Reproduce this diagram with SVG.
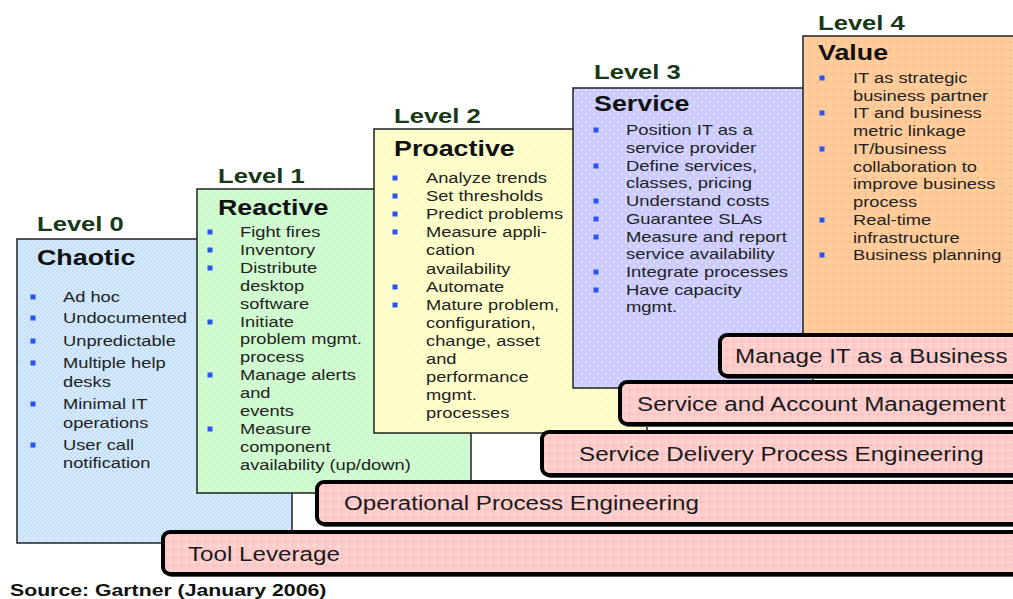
<svg xmlns="http://www.w3.org/2000/svg" width="1013" height="599" viewBox="0 0 1013 599">
  <defs>
    <!-- dotted / hatched fills for the stages -->
    <pattern id="pBlue" width="4" height="4" patternUnits="userSpaceOnUse">
      <rect width="4" height="4" fill="#c4e0fa"/>
      <circle cx="1" cy="1" r="0.8" fill="#eef7ff"/>
      <circle cx="3" cy="3" r="0.8" fill="#eef7ff"/>
    </pattern>
    <pattern id="pGreen" width="8" height="8" patternUnits="userSpaceOnUse">
      <rect width="8" height="8" fill="#ccfacc"/>
      <circle cx="2" cy="2" r="0.8" fill="#ffffff"/>
      <circle cx="6" cy="6" r="0.8" fill="#ffffff"/>
    </pattern>
    <pattern id="pYellow" width="8" height="8" patternUnits="userSpaceOnUse">
      <rect width="8" height="8" fill="#ffffcc"/>
      <circle cx="2" cy="2" r="0.8" fill="#efe9b4"/>
      <circle cx="6" cy="6" r="0.8" fill="#efe9b4"/>
    </pattern>
    <pattern id="pPurple" width="8" height="8" patternUnits="userSpaceOnUse">
      <rect width="8" height="8" fill="#ccccff"/>
      <circle cx="2" cy="2" r="0.8" fill="#ffffff"/>
      <circle cx="6" cy="6" r="0.8" fill="#ffffff"/>
    </pattern>
    <pattern id="pOrange" width="8" height="8" patternUnits="userSpaceOnUse">
      <rect width="8" height="8" fill="#ffcc99"/>
      <circle cx="2" cy="2" r="0.8" fill="#f2a08c"/>
      <circle cx="6" cy="6" r="0.8" fill="#f8e0a0"/>
    </pattern>
    <pattern id="pPink" width="8" height="8" patternUnits="userSpaceOnUse">
      <rect width="8" height="8" fill="#ffcccc"/>
      <circle cx="2" cy="2" r="0.8" fill="#ffffff"/>
      <circle cx="6" cy="6" r="0.8" fill="#f2a8a8"/>
    </pattern>
    <style>
      .box { stroke: #222; stroke-width: 1.5; }
      .lvl { font-family: "Liberation Sans", Arial, sans-serif; font-weight: bold; font-size: 21px; fill: #183818; }
      .ttl { font-family: "Liberation Sans", Arial, sans-serif; font-weight: bold; font-size: 22px; fill: #111; }
      .body { font-family: "Liberation Sans", Arial, sans-serif; font-size: 15px; fill: #222; }
      .bul { fill: #2a52f0; }
      .shadow { fill: #555; }
      .bar { fill: url(#pPink); stroke: #000; stroke-width: 4; }
      .bart { font-family: "Liberation Sans", Arial, sans-serif; font-size: 20px; fill: #1a1a1a; }
      .src { font-family: "Liberation Sans", Arial, sans-serif; font-weight: bold; font-size: 17px; fill: #111; }
    </style>
  </defs>

  <rect width="1013" height="599" fill="#ffffff"/>

  <!-- Level 0 -->
  <g id="level0">
    <rect class="box" x="17" y="239" width="275" height="304" fill="url(#pBlue)"/>
    <g transform="translate(37 0) scale(1.22 1)">
      <text class="lvl" x="0" y="231">Level 0</text>
      <text class="ttl" x="0" y="265">Chaotic</text>
    </g>
    <g class="bul">
      <rect x="30.5" y="294.5" width="5" height="5"/>
      <rect x="30.5" y="315.5" width="5" height="5"/>
      <rect x="30.5" y="338.5" width="5" height="5"/>
      <rect x="30.5" y="360.5" width="5" height="5"/>
      <rect x="30.5" y="401.5" width="5" height="5"/>
      <rect x="30.5" y="442.5" width="5" height="5"/>
    </g>
    <g transform="translate(63 0) scale(1.22 1)" class="body">
      <text x="0" y="302">Ad hoc</text>
      <text x="0" y="323">Undocumented</text>
      <text x="0" y="346">Unpredictable</text>
      <text x="0" y="368">Multiple help</text>
      <text x="0" y="387">desks</text>
      <text x="0" y="409">Minimal IT</text>
      <text x="0" y="428">operations</text>
      <text x="0" y="450">User call</text>
      <text x="0" y="468">notification</text>
    </g>
  </g>

  <!-- Level 1 -->
  <g id="level1">
    <rect class="box" x="197" y="189" width="274" height="304" fill="url(#pGreen)"/>
    <g transform="translate(218 0) scale(1.22 1)">
      <text class="lvl" x="0" y="183">Level 1</text>
      <text class="ttl" x="0" y="215">Reactive</text>
    </g>
    <g class="bul">
      <rect x="207.5" y="229.5" width="5" height="5"/>
      <rect x="207.5" y="247.5" width="5" height="5"/>
      <rect x="207.5" y="265.5" width="5" height="5"/>
      <rect x="207.5" y="319.5" width="5" height="5"/>
      <rect x="207.5" y="372.5" width="5" height="5"/>
      <rect x="207.5" y="426.5" width="5" height="5"/>
    </g>
    <g transform="translate(240 0) scale(1.22 1)" class="body">
      <text x="0" y="237">Fight fires</text>
      <text x="0" y="255">Inventory</text>
      <text x="0" y="273">Distribute</text>
      <text x="0" y="291">desktop</text>
      <text x="0" y="309">software</text>
      <text x="0" y="327">Initiate</text>
      <text x="0" y="344">problem mgmt.</text>
      <text x="0" y="362">process</text>
      <text x="0" y="380">Manage alerts</text>
      <text x="0" y="398">and</text>
      <text x="0" y="416">events</text>
      <text x="0" y="434">Measure</text>
      <text x="0" y="452">component</text>
      <text x="0" y="470">availability (up/down)</text>
    </g>
  </g>

  <!-- Level 2 -->
  <g id="level2">
    <rect class="box" x="374" y="129" width="273" height="304" fill="url(#pYellow)"/>
    <g transform="translate(394 0) scale(1.22 1)">
      <text class="lvl" x="0" y="123">Level 2</text>
      <text class="ttl" x="0" y="156">Proactive</text>
    </g>
    <g class="bul">
      <rect x="392.5" y="175.5" width="5" height="5"/>
      <rect x="392.5" y="193.5" width="5" height="5"/>
      <rect x="392.5" y="211.5" width="5" height="5"/>
      <rect x="392.5" y="229.5" width="5" height="5"/>
      <rect x="392.5" y="284.5" width="5" height="5"/>
      <rect x="392.5" y="302.5" width="5" height="5"/>
    </g>
    <g transform="translate(426 0) scale(1.22 1)" class="body">
      <text x="0" y="183">Analyze trends</text>
      <text x="0" y="201">Set thresholds</text>
      <text x="0" y="219">Predict problems</text>
      <text x="0" y="237">Measure appli-</text>
      <text x="0" y="255">cation</text>
      <text x="0" y="274">availability</text>
      <text x="0" y="292">Automate</text>
      <text x="0" y="310">Mature problem,</text>
      <text x="0" y="328">configuration,</text>
      <text x="0" y="346">change, asset</text>
      <text x="0" y="364">and</text>
      <text x="0" y="382">performance</text>
      <text x="0" y="400">mgmt.</text>
      <text x="0" y="418">processes</text>
    </g>
  </g>

  <!-- Level 3 -->
  <g id="level3">
    <rect class="box" x="573" y="88" width="240" height="300" fill="url(#pPurple)"/>
    <g transform="translate(594 0) scale(1.22 1)">
      <text class="lvl" x="0" y="79">Level 3</text>
      <text class="ttl" x="0" y="111">Service</text>
    </g>
    <g class="bul">
      <rect x="593.5" y="127.5" width="5" height="5"/>
      <rect x="593.5" y="163.5" width="5" height="5"/>
      <rect x="593.5" y="198.5" width="5" height="5"/>
      <rect x="593.5" y="216.5" width="5" height="5"/>
      <rect x="593.5" y="234.5" width="5" height="5"/>
      <rect x="593.5" y="269.5" width="5" height="5"/>
      <rect x="593.5" y="287.5" width="5" height="5"/>
    </g>
    <g transform="translate(626 0) scale(1.23 1)" class="body">
      <text x="0" y="135">Position IT as a</text>
      <text x="0" y="153">service provider</text>
      <text x="0" y="171">Define services,</text>
      <text x="0" y="188">classes, pricing</text>
      <text x="0" y="206">Understand costs</text>
      <text x="0" y="224">Guarantee SLAs</text>
      <text x="0" y="242">Measure and report</text>
      <text x="0" y="259">service availability</text>
      <text x="0" y="277">Integrate processes</text>
      <text x="0" y="295">Have capacity</text>
      <text x="0" y="312">mgmt.</text>
    </g>
  </g>

  <!-- Level 4 -->
  <g id="level4">
    <rect class="box" x="803" y="36" width="230" height="302" fill="url(#pOrange)"/>
    <g transform="translate(818 0) scale(1.22 1)">
      <text class="lvl" x="0" y="30">Level 4</text>
      <text class="ttl" x="0" y="60">Value</text>
    </g>
    <g class="bul">
      <rect x="819.5" y="75.5" width="5" height="5"/>
      <rect x="819.5" y="110.5" width="5" height="5"/>
      <rect x="819.5" y="146.5" width="5" height="5"/>
      <rect x="819.5" y="217.5" width="5" height="5"/>
      <rect x="819.5" y="252.5" width="5" height="5"/>
    </g>
    <g transform="translate(853 0) scale(1.22 1)" class="body">
      <text x="0" y="83">IT as strategic</text>
      <text x="0" y="101">business partner</text>
      <text x="0" y="118">IT and business</text>
      <text x="0" y="136">metric linkage</text>
      <text x="0" y="154">IT/business</text>
      <text x="0" y="172">collaboration to</text>
      <text x="0" y="189">improve business</text>
      <text x="0" y="207">process</text>
      <text x="0" y="225">Real-time</text>
      <text x="0" y="243">infrastructure</text>
      <text x="0" y="260">Business planning</text>
    </g>
  </g>

  <!-- capability bars, top of the stack first so lower bars sit over their shadows -->
  <g id="bar-manage-it">
    <rect class="shadow" x="722" y="338" width="310" height="41" rx="7"/>
    <rect class="bar" x="720" y="335" width="310" height="41" rx="7"/>
    <text class="bart" transform="translate(735 363) scale(1.21 1)">Manage IT as a Business</text>
  </g>
  <g id="bar-service-account">
    <rect class="shadow" x="622" y="385" width="410" height="42" rx="7"/>
    <rect class="bar" x="620" y="382" width="410" height="42" rx="7"/>
    <text class="bart" transform="translate(637 411) scale(1.21 1)">Service and Account Management</text>
  </g>
  <g id="bar-service-delivery">
    <rect class="shadow" x="544" y="435" width="490" height="43" rx="7"/>
    <rect class="bar" x="542" y="432" width="490" height="43" rx="7"/>
    <text class="bart" transform="translate(579 461) scale(1.21 1)">Service Delivery Process Engineering</text>
  </g>
  <g id="bar-operational">
    <rect class="shadow" x="319" y="485" width="715" height="42" rx="7"/>
    <rect class="bar" x="317" y="482" width="715" height="42" rx="7"/>
    <text class="bart" transform="translate(344 510) scale(1.21 1)">Operational Process Engineering</text>
  </g>
  <g id="bar-tool-leverage">
    <rect class="shadow" x="165" y="535" width="870" height="42" rx="7"/>
    <rect class="bar" x="163" y="532" width="870" height="42" rx="7"/>
    <text class="bart" transform="translate(188 561) scale(1.21 1)">Tool Leverage</text>
  </g>

  <g id="source">
    <text class="src" transform="translate(10 596) scale(1.25 1)">Source: Gartner (January 2006)</text>
  </g>
</svg>
